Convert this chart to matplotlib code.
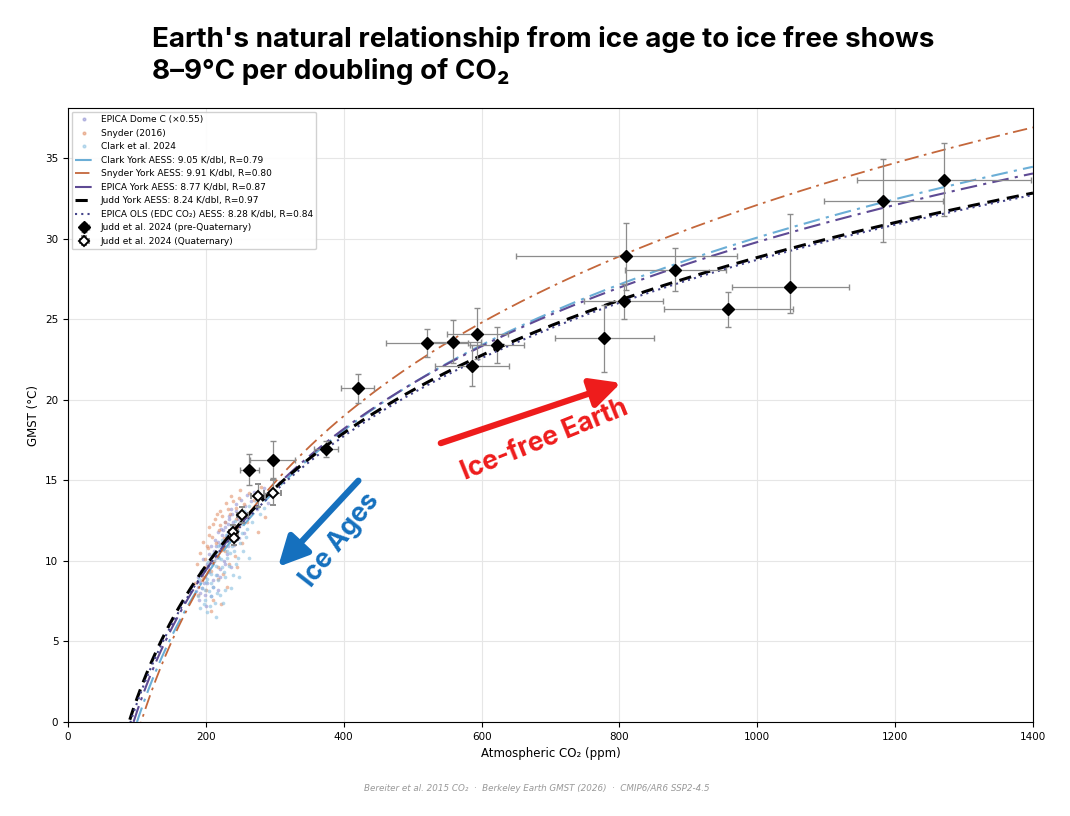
import numpy as np
import matplotlib
matplotlib.use("Agg")
import matplotlib.pyplot as plt
from matplotlib.lines import Line2D

# ice-core scatter clouds (CO2 ppm, GMST degC)
epica_co2 = [186, 188, 190, 191, 193, 195, 196, 198, 199, 201, 202, 204, 205, 207, 208, 210,
             211, 213, 214, 216, 217, 219, 221, 222, 224, 226, 227, 229, 231, 233, 235, 237,
             239, 241, 243, 246, 248, 251, 254, 257, 260, 263, 266, 270, 274, 279, 284, 290,
             256, 236, 218, 200,
             203, 206, 209, 212, 215, 218, 220, 223, 225, 228, 230, 232, 234, 238, 240, 244,
             249, 252, 210, 220, 228, 232, 244, 258, 197, 192, 189, 194]
epica_t = [8.1, 9.0, 7.6, 8.7, 9.4, 8.3, 10.1, 9.0, 7.9, 9.8, 8.6, 10.4, 9.3, 7.8, 10.9, 9.9,
           8.8, 11.3, 10.2, 9.1, 11.8, 10.6, 9.5, 12.0, 11.1, 10.0, 12.4, 11.5, 10.4, 12.8, 11.8, 13.2,
           12.1, 11.0, 13.5, 12.6, 11.4, 13.8, 12.9, 13.4, 14.1, 12.8, 13.7, 14.3, 13.2, 14.0, 14.5, 13.6,
           11.7, 9.6, 8.2, 7.2,
           9.6, 10.0, 10.3, 10.6, 10.9, 11.2, 11.0, 11.6, 11.9, 12.1, 11.6, 12.3, 12.6, 12.9, 12.4, 13.1,
           13.0, 12.5, 8.4, 9.0, 9.8, 10.9, 11.9, 13.0, 8.6, 8.0, 8.4, 9.1]

snyder_co2 = [184, 187, 189, 192, 194, 196, 198, 200, 203, 205, 207, 209, 211, 213, 215, 217,
              219, 221, 223, 225, 227, 229, 231, 233, 235, 237, 240, 242, 244, 247, 250, 253,
              256, 259, 262, 266, 270, 275, 280, 286, 222, 208, 230, 245,
              198, 201, 204, 206, 210, 214, 216, 220, 224, 226, 232, 236, 239, 243, 248, 252,
              196, 212, 218, 228, 234, 241]
snyder_t = [8.6, 9.8, 7.9, 10.5, 8.8, 11.2, 9.6, 8.2, 10.8, 12.1, 9.4, 11.5, 7.6, 12.6, 10.3, 8.9,
            11.9, 13.1, 10.7, 9.2, 12.4, 13.6, 11.3, 9.8, 12.9, 14.0, 11.7, 10.3, 13.3, 12.2, 14.4, 11.1,
            13.5, 12.4, 14.2, 12.9, 13.8, 11.8, 14.6, 12.7, 7.3, 6.9, 8.4, 9.6,
            10.1, 10.9, 11.6, 9.9, 12.3, 11.1, 12.9, 12.2, 12.8, 11.4, 13.2, 12.0, 13.7, 12.6, 13.9, 13.0,
            9.0, 10.0, 9.6, 10.6, 11.2, 12.1]

clark_co2 = [188, 190, 192, 194, 196, 198, 200, 201, 203, 205, 206, 208, 210, 211, 213, 215,
             217, 218, 220, 222, 224, 226, 228, 230, 232, 234, 236, 238, 240, 242, 244, 247,
             250, 253, 256, 259, 263, 267, 272, 278, 285, 214, 225, 237, 248, 262,
             199, 202, 204, 207, 209, 212, 214, 216, 219, 221, 223, 227, 229, 231, 233, 235,
             239, 241, 245, 249, 252, 258, 197, 207, 216, 228, 243, 254]
clark_t = [7.8, 8.9, 7.1, 8.3, 9.5, 7.6, 8.7, 6.8, 9.9, 8.1, 7.2, 9.2, 10.4, 8.4, 7.4, 9.7,
           10.9, 8.8, 7.9, 10.1, 11.3, 9.3, 8.2, 10.6, 11.8, 9.7, 12.2, 10.9, 9.1, 12.5, 11.3, 10.2,
           12.8, 11.7, 13.1, 12.0, 13.4, 12.4, 13.7, 12.9, 13.3, 6.5, 7.4, 8.3, 9.0, 10.2,
           8.2, 8.9, 9.4, 8.6, 9.8, 10.0, 9.1, 10.5, 10.2, 11.0, 9.6, 10.9, 11.6, 10.2, 11.2, 10.5,
           11.7, 10.6, 12.0, 11.1, 12.3, 11.5, 7.3, 7.8, 8.0, 9.0, 9.8, 10.6]

# Judd et al. 2024 pre-Quaternary points
judd_co2 = [263, 297, 374, 420, 521, 559, 594, 622, 586, 778, 806, 810, 881, 958, 1048, 1183, 1271]
judd_t = [15.65, 16.27, 16.96, 20.7, 23.5, 23.6, 24.1, 23.4, 22.1, 23.8, 26.1, 28.9, 28.07, 25.6, 27.0, 32.36, 33.66]
judd_xerr = [14, 33, 17, 24, 60, 40, 44, 39, 54, 72, 57, 160, 73, 94, 85, 86, 126]
judd_yerr_lo = [0.95, 1.15, 0.5, 0.88, 0.87, 1.35, 1.6, 1.14, 1.27, 2.1, 1.09, 2.07, 1.33, 1.09, 1.6, 2.55, 2.27]
judd_yerr_hi = [0.95, 1.15, 0.5, 0.88, 0.87, 1.35, 1.6, 1.14, 1.27, 2.1, 1.09, 2.07, 1.33, 1.09, 4.5, 2.55, 2.27]

# Judd et al. 2024 Quaternary points
quat_co2 = [276, 297, 253, 240, 241]
quat_t = [14.04, 14.24, 12.86, 11.82, 11.4]
quat_xerr = [10, 12, 8, 6, 6]
quat_yerr = [0.7, 0.8, 0.5, 0.4, 0.4]

# fitted log curves: sensitivity (K per doubling) and zero-crossing CO2
fit_names = ["Clark York AESS: 9.05 K/dbl, R=0.79",
             "Snyder York AESS: 9.91 K/dbl, R=0.80",
             "EPICA York AESS: 8.77 K/dbl, R=0.87",
             "Judd York AESS: 8.24 K/dbl, R=0.97",
             "EPICA OLS (EDC CO\u2082) AESS: 8.28 K/dbl, R=0.84"]
fit_s = [9.05, 9.91, 8.77, 8.24, 8.28]
fit_c0 = [100, 106, 95, 88.5, 90.6]


def main():
    fig = plt.figure(figsize=(10.7, 8.16), dpi=100)
    ax = fig.add_axes([0.0636, 0.1152, 0.9018, 0.7524])

    ax.scatter(epica_co2, epica_t, s=7, color="#8a8ad0", alpha=0.55, lw=0, zorder=2)
    ax.scatter(snyder_co2, snyder_t, s=7, color="#e08a60", alpha=0.55, lw=0, zorder=2)
    ax.scatter(clark_co2, clark_t, s=7, color="#88bfe0", alpha=0.6, lw=0, zorder=2)

    styles = [dict(color="#6baed6", ls=(0, (8, 3, 1.5, 3)), lw=1.5),
              dict(color="#c4673b", ls=(0, (8, 3, 1.5, 3)), lw=1.3),
              dict(color="#5e4a94", ls=(0, (8, 3, 1.5, 3)), lw=1.5),
              dict(color="black", ls=(0, (4, 2.5)), lw=2.2),
              dict(color="#44448a", ls=(0, (1, 2)), lw=1.5)]
    c = np.linspace(60, 1400, 600)
    for name, s, c0, st in zip(fit_names, fit_s, fit_c0, styles):
        ax.plot(c, s * np.log2(c / c0), label=name, zorder=3, **st)

    ax.errorbar(judd_co2, judd_t, xerr=judd_xerr, yerr=[judd_yerr_lo, judd_yerr_hi],
                fmt="D", color="black", ms=6, ecolor="#8c8c8c", elinewidth=0.9,
                capsize=2, zorder=5, label="Judd et al. 2024 (pre-Quaternary)")
    ax.errorbar(quat_co2, quat_t, xerr=quat_xerr, yerr=quat_yerr,
                fmt="D", mfc="white", mec="black", mew=1.4, ms=5.5, ecolor="#8c8c8c",
                elinewidth=0.9, capsize=2, zorder=6, label="Judd et al. 2024 (Quaternary)")

    ax.set_xlim(0, 1400)
    ax.set_ylim(0, 38.1)
    ax.set_xticks(range(0, 1401, 200))
    ax.set_yticks(range(0, 36, 5))
    ax.grid(True, color="#e6e6e6", lw=0.8)
    ax.set_axisbelow(True)
    ax.tick_params(labelsize=7.5)
    ax.set_xlabel("Atmospheric CO\u2082 (ppm)", fontsize=8.5)
    ax.set_ylabel("GMST (\u00b0C)", fontsize=8.5)

    # legend: scatter keys first
    handles, labels = ax.get_legend_handles_labels()
    dots = [Line2D([], [], ls="none", marker="o", ms=2, color=col, alpha=0.5)
            for col in ("#8a8ad0", "#e08a60", "#88bfe0")]
    dot_labels = ["EPICA Dome C (\u00d70.55)", "Snyder (2016)", "Clark et al. 2024"]
    ax.legend(dots + handles, dot_labels + labels, loc="upper left", fontsize=6.5,
              framealpha=0.9, edgecolor="#cccccc", borderaxespad=0.4)

    # annotations
    ax.annotate("", xy=(806, 21.1), xytext=(537, 17.25),
                arrowprops=dict(arrowstyle="-|>,head_length=0.9,head_width=0.45",
                                mutation_scale=20, lw=4.5, color="#ee1c1c"), zorder=7)
    ax.text(692, 17.5, "Ice-free Earth", color="#ee1c1c", fontsize=19, fontweight="bold",
            family="Inter", rotation=22, ha="center", va="center", zorder=7)
    ax.annotate("", xy=(302, 9.5), xytext=(424, 15.1),
                arrowprops=dict(arrowstyle="-|>,head_length=0.9,head_width=0.45",
                                mutation_scale=20, lw=4.5, color="#1570be"), zorder=7)
    ax.text(395, 11.3, "Ice Ages", color="#1570be", fontsize=19, fontweight="bold",
            family="Inter", rotation=52, ha="center", va="center", zorder=7)

    fig.text(0.142, 0.968, "Earth's natural relationship from ice age to ice free shows\n"
             "8\u20139\u00b0C per doubling of CO\u2082", fontsize=20, fontweight="bold",
             family=["Inter", "DejaVu Sans"], ha="left", va="top", linespacing=1.22)
    fig.text(0.502, 0.034, "Bereiter et al. 2015 CO\u2082  \u00b7  Berkeley Earth GMST (2026)  \u00b7  CMIP6/AR6 SSP2-4.5",
             fontsize=6.3, style="italic", color="#999999", ha="center", va="center")

    fig.savefig("out.png", dpi=100)


if __name__ == "__main__":
    main()
